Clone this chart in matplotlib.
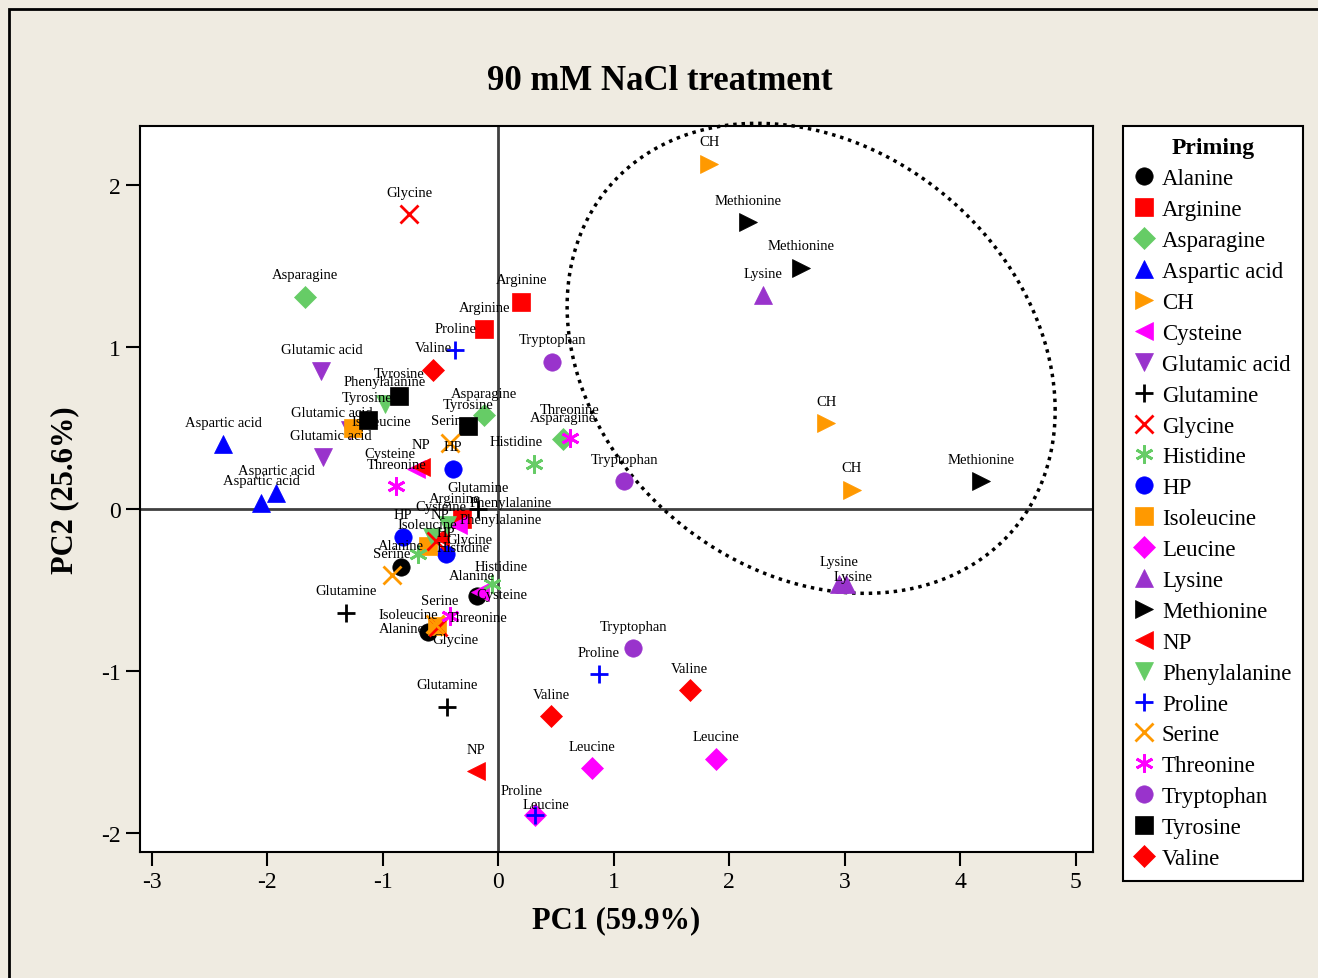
import numpy as np
import matplotlib.pyplot as plt
from matplotlib.lines import Line2D
from matplotlib.patches import Rectangle

plt.rcParams['font.family'] = ['Liberation Serif', 'DejaVu Serif']
plt.rcParams['axes.unicode_minus'] = False

# priming treatments (legend order), 3 replicates each
priming = ["Alanine", "Arginine", "Asparagine", "Aspartic acid", "CH", "Cysteine",
           "Glutamic acid", "Glutamine", "Glycine", "Histidine", "HP", "Isoleucine",
           "Leucine", "Lysine", "Methionine", "NP", "Phenylalanine", "Proline",
           "Serine", "Threonine", "Tryptophan", "Tyrosine", "Valine"]

pc1 = [-0.61, -0.84, -0.18,   # Alanine
       0.20, -0.12, -0.31,    # Arginine
       -1.67, -0.12, 0.56,    # Asparagine
       -2.38, -2.05, -1.92,   # Aspartic acid
       1.83, 2.84, 3.06,      # CH
       -0.71, -0.35, -0.16,   # Cysteine
       -1.53, -1.28, -1.52,   # Glutamic acid
       -0.17, -1.32, -0.44,   # Glutamine
       -0.77, -0.54, -0.52,   # Glycine
       0.31, -0.69, -0.05,    # Histidine
       -0.39, -0.82, -0.45,   # HP
       -1.26, -0.61, -0.53,   # Isoleucine
       0.81, 1.89, 0.32,      # Leucine
       2.29, 2.95, 3.01,      # Lysine
       2.16, 2.62, 4.18,      # Methionine
       -0.67, -0.50, -0.19,   # NP
       -0.98, -0.44, -0.57,   # Phenylalanine
       -0.37, 0.87, 0.32,     # Proline
       -0.42, -0.92, -0.55,   # Serine
       -0.88, 0.62, -0.42,    # Threonine
       0.47, 1.09, 1.17,      # Tryptophan
       -0.86, -1.13, -0.26,   # Tyrosine
       -0.56, 1.66, 0.46]     # Valine

pc2 = [-0.76, -0.36, -0.54,
       1.28, 1.11, -0.06,
       1.31, 0.58, 0.43,
       0.40, 0.04, 0.10,
       2.13, 0.53, 0.12,
       0.25, -0.10, -0.51,
       0.85, 0.49, 0.32,
       0.00, -0.64, -1.22,
       1.82, -0.20, -0.73,
       0.28, -0.28, -0.46,
       0.25, -0.17, -0.28,
       0.50, -0.23, -0.72,
       -1.60, -1.54, -1.89,
       1.32, -0.46, -0.46,
       1.77, 1.49, 0.17,
       0.26, -0.17, -1.62,
       0.65, -0.10, -0.17,
       0.98, -1.02, -1.89,
       0.41, -0.41, -0.71,
       0.14, 0.44, -0.66,
       0.91, 0.17, -0.86,
       0.70, 0.55, 0.51,
       0.86, -1.12, -1.28]

point_group = np.repeat(priming, 3)
replicate = np.tile([0, 1, 2], len(priming))

green = "#66CC66"
orange = "#FF9900"
purple = "#9933CC"
asterisk = (6, 2, 0)
colors = ["black", "red", green, "blue", orange, "magenta", purple, "black", "red",
          green, "blue", orange, "magenta", purple, "black", "red", green, "blue",
          orange, "magenta", purple, "black", "red"]
markers = ["o", "s", "D", "^", ">", "<", "v", "+", "x", asterisk, "o", "s", "D", "^",
           ">", "<", "v", "+", "x", asterisk, "o", "s", "D"]

# label centre offsets (pixels) where labels were moved off the default spot
label_nudge = {
    ("Alanine", 0): (-26, 4), ("Alanine", 2): (-5, 21),
    ("Arginine", 2): (-8, 20),
    ("Isoleucine", 0): (29, 7), ("Isoleucine", 2): (-29, 11),
    ("Glycine", 1): (34, 2), ("Glycine", 2): (17, -12),
    ("Threonine", 1): (0, 28), ("Threonine", 2): (28, -2),
    ("Cysteine", 0): (-26, 15), ("Cysteine", 1): (-17, 19), ("Cysteine", 2): (22, -3),
    ("Phenylalanine", 1): (63, 23), ("Phenylalanine", 2): (68, 17),
    ("Histidine", 0): (-18, 22), ("Histidine", 1): (45, 7), ("Histidine", 2): (9, 17),
    ("Glutamic acid", 1): (-18, 17), ("Glutamic acid", 2): (8, 22),
    ("Proline", 2): (-13, 25), ("Leucine", 2): (11, 11),
    ("Lysine", 2): (7, 7), ("Serine", 2): (5, 24),
}

W, H = 1318, 979
fig = plt.figure(figsize=(W / 100, H / 100), dpi=100, facecolor="#EFEBE1")
fig.patches.append(Rectangle((9 / W, -10 / H), 1.0, 1 - 0 / H, transform=fig.transFigure,
                             fill=False, edgecolor="black", linewidth=2))
ax = fig.add_axes([140 / W, 1 - 853 / H, 953 / W, 726 / H])
ax.set_facecolor("white")

ax.axhline(0, color="#404040", lw=2, zorder=1)
ax.axvline(0, color="#404040", lw=2, zorder=1)

pc1 = np.array(pc1)
pc2 = np.array(pc2)
handles = []
for name, col, mk in zip(priming, colors, markers):
    sel = point_group == name
    line_mk = mk in ("+", "x") or mk == asterisk
    size = 12.5 if mk in ("o", "s") else 11.5 if mk == "D" else 13
    ax.plot(pc1[sel], pc2[sel], linestyle="none", marker=mk, color=col,
            markersize=size, markeredgewidth=2 if line_mk else 0.5,
            zorder=4 if line_mk else 3)
    handles.append(Line2D([], [], linestyle="none", marker=mk, color=col,
                          markersize=size, markeredgewidth=2 if line_mk else 0.5))

for x, y, name, r in zip(pc1, pc2, point_group, replicate):
    dx, dy = label_nudge.get((name, r), (0, 22))
    ax.annotate(name, (x, y), xytext=(dx, dy), textcoords="offset pixels",
                ha="center", va="center", fontsize=10.5, zorder=5)

# dotted ellipse around the CH / Methionine / Lysine group
ell_c = (2.71, 0.93)
q = np.array([[(244 / 115.5) ** 2, -12700 / (115.5 * 162)],
              [-12700 / (115.5 * 162), (235 / 162) ** 2]])
L = np.linalg.cholesky(q)
t = np.linspace(0, 2 * np.pi, 400)
ell = L @ np.vstack([np.cos(t), np.sin(t)])
ax.plot(ell_c[0] + ell[0], ell_c[1] + ell[1], color="black", lw=2.5,
        linestyle=(0, (1, 1.4)), zorder=2, clip_on=False)

ax.set_xlim(-3.1, 5.15)
ax.set_ylim(-2.117, 2.364)
ax.set_xticks(range(-3, 6))
ax.set_yticks(range(-2, 3))
ax.tick_params(direction="out", length=10, width=1.5, labelsize=17, top=False, right=False)
for s in ax.spines.values():
    s.set_linewidth(1.5)

ax.set_xlabel("PC1 (59.9%)", fontsize=22, fontweight="bold", labelpad=10)
ax.set_ylabel("PC2 (25.6%)", fontsize=22, fontweight="bold", labelpad=16)
fig.text(660 / W, 1 - 82 / H, "90 mM NaCl treatment", ha="center", va="center",
         fontsize=25, fontweight="bold")

leg = fig.legend(handles, priming, title="Priming", loc="upper left",
                 bbox_to_anchor=(1123 / W, 1 - 127 / H), borderaxespad=0,
                 fontsize=16.5, title_fontproperties={"weight": "bold", "size": 17},
                 frameon=True, fancybox=False, edgecolor="black", framealpha=1,
                 handlelength=0.8, handletextpad=0.4, labelspacing=0.43,
                 borderpad=0.5)
leg.get_frame().set_linewidth(1.5)

fig.savefig("out.png", dpi=100, facecolor=fig.get_facecolor())
